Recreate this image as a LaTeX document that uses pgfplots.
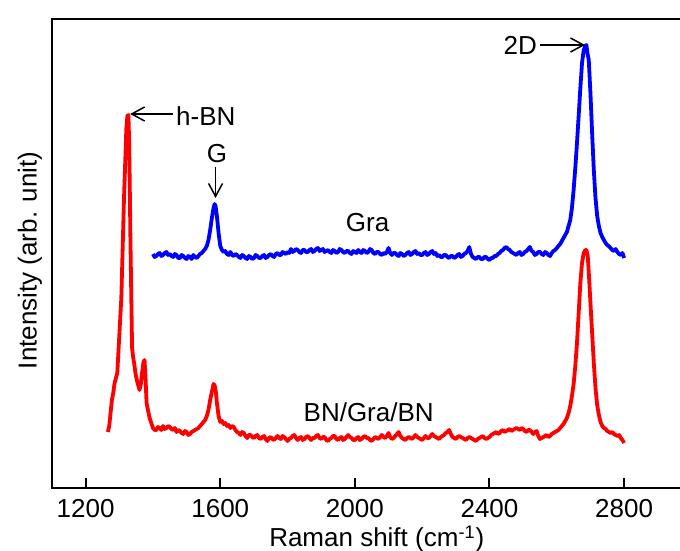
\documentclass[border=0pt]{standalone}
\usepackage{fontspec}
\setmainfont{Liberation Sans}
\usepackage{pgfplots}
\pgfplotsset{compat=1.18}
\usetikzlibrary{arrows.meta}
\begin{document}
\begin{tikzpicture}
\begin{axis}[
  scale only axis,
  width=319.7pt, height=234.25pt,
  xmin=1100, xmax=3000, ymin=0, ymax=468.5,
  xtick={1200,1600,2000,2400,2800},
  xtick pos=left,
  ytick=\empty,
  major tick length=5pt,
  every tick/.style={line width=1pt, black},
  axis line style={line width=1pt},
  /pgf/number format/assume math mode=true,
  /pgf/number format/1000 sep={},
  ticklabel style={font=\fontsize{13}{15}\selectfont},
  xticklabel style={yshift=-2pt},
  xlabel={Raman shift (cm\textsuperscript{-1})},
  ylabel={Intensity (arb. unit)},
  label style={font=\fontsize{13}{15}\selectfont},
  xlabel style={at={(axis description cs:0.508,0)}, anchor=base, yshift=-29.5pt},
  ylabel style={at={(axis description cs:-0.024,0.486)}, anchor=base, rotate=0},
]
\coordinate (bl) at (rel axis cs:0,0);
% Gra (blue)
\addplot[blue, line width=1.9pt, line join=round] coordinates {
(1400,234)(1405,231)(1410,232)(1415,234)(1420,235)(1425,232)(1430,233)(1435,235)(1440,236)(1445,233)(1450,234)(1455,232)(1460,231)(1465,234)(1470,233)(1475,230)(1480,230)(1485,233)(1490,232)
(1495,230)(1500,229)(1505,232)(1510,231)(1515,229)(1520,233)(1525,231)(1530,230)(1535,232)(1540,234)(1545,235)(1550,237)(1555,239)(1560,242)(1565,248)(1570,258)(1575,270)
(1580,280)(1583,284)(1586,282)(1590,272)(1595,255)(1600,242)(1605,238)(1610,236)(1615,237)(1620,234)(1625,233)(1630,236)(1635,233)
(1640,232)(1645,234)(1650,233)(1655,231)(1660,230)(1665,233)(1670,232)(1675,230)(1680,229)(1685,232)(1690,231)(1695,229)(1700,230)(1705,233)(1710,232)(1715,230)(1720,230)(1725,232)(1730,233)
(1735,230)(1740,231)(1745,233)(1750,234)(1755,232)(1760,231)(1765,234)(1770,235)(1775,233)(1780,233)(1785,236)(1790,235)(1795,234)(1800,236)(1805,235)(1810,239)(1815,236)(1820,237)(1825,239)(1830,238)
(1835,236)(1840,235)(1845,238)(1850,238)(1855,236)(1860,236)(1865,238)(1870,239)(1875,236)(1880,237)(1885,239)(1890,240)(1895,237)(1900,238)(1905,239)(1910,236)(1915,237)(1920,238)(1925,236)(1930,235)
(1935,238)(1940,237)(1945,235)(1950,236)(1955,239)(1960,238)(1965,236)(1970,235)(1975,237)(1980,237)(1985,235)(1990,234)(1995,237)(2000,236)(2005,235)(2010,238)(2015,236)(2020,235)(2025,238)(2030,237)
(2035,235)(2040,236)(2045,239)(2050,238)(2055,235)(2060,234)(2065,236)(2070,236)(2075,234)(2080,233)(2085,235)(2090,234)(2095,236)(2100,240)(2105,235)(2110,233)(2115,235)(2120,235)(2125,233)(2130,232)
(2135,235)(2140,234)(2145,232)(2150,233)(2155,235)(2160,236)(2165,233)(2170,234)(2175,236)(2180,237)(2185,234)(2190,235)(2195,233)(2200,233)(2205,235)(2210,236)(2215,233)(2220,234)(2225,236)(2230,237)
(2235,234)(2240,235)(2245,232)(2250,233)(2255,231)(2260,231)(2265,233)(2270,233)(2275,231)(2280,230)(2285,232)(2290,232)(2295,230)(2300,231)(2305,233)(2310,234)(2315,231)(2320,232)(2325,234)(2330,235)
(2335,237)(2340,241)(2345,234)(2350,231)(2355,230)(2360,229)(2365,231)(2370,231)(2375,229)(2380,229)(2385,231)(2390,231)(2395,229)(2400,228)(2405,230)(2410,230)(2415,232)(2420,232)(2425,234)(2430,235)
(2435,237)(2440,238)(2445,240)(2450,241)(2455,239)(2460,238)(2465,236)(2470,235)(2475,234)(2480,233)(2485,235)(2490,236)(2495,233)(2500,234)(2505,236)(2510,237)(2515,239)(2520,241)(2525,237)(2530,236)
(2535,233)(2540,234)(2545,236)(2550,236)(2555,234)(2560,233)(2565,236)(2570,235)(2575,233)(2580,232)(2585,235)(2590,237)(2595,238)(2600,240)(2605,242)(2610,244)(2615,247)(2620,250)(2625,253)(2630,256)
(2635,262)(2640,268)(2645,280)(2650,298)(2655,320)(2660,345)(2665,372)(2670,400)(2675,425)(2680,438)(2685,442)
(2688,443)(2691,435)(2695,428)(2700,395)(2705,355)(2710,318)(2715,290)(2720,272)(2725,262)(2730,255)
(2735,251)(2740,248)(2745,245)(2750,243)(2757,241)(2762,239)(2765,238)(2770,237)(2775,239)(2780,236)(2785,234)(2790,233)(2795,235)(2800,230)
};
% BN/Gra/BN (red)
\addplot[red, line width=1.9pt, line join=round] coordinates {
(1266,56)(1270,62)(1274,75)(1278,88)(1282,95)(1286,105)(1290,110)(1294,115)(1298,140)(1302,165)
(1306,190)(1310,240)(1314,290)(1318,330)(1321,360)(1324,372)(1327,373)(1329,350)(1331,305)(1333,250)
(1335,205)(1338,140)(1341,131)(1344,125)(1348,115)(1352,108)(1356,103)(1360,98)(1364,104)(1368,116)
(1372,126)(1375,128)(1378,110)(1381,85)(1385,78)(1390,70)(1395,65)(1400,60)(1405,58)(1410,58)
(1415,61)(1420,60)(1425,58)(1430,62)(1435,59)(1440,60)(1445,62)(1450,61)(1455,59)(1460,58)(1465,60)(1470,56)(1475,58)(1480,57)(1485,55)(1490,54)(1495,57)(1500,56)(1505,53)(1510,54)
(1515,56)(1520,57)(1525,58)(1530,59)(1535,60)(1540,62)(1545,64)(1550,66)(1555,68)(1560,72)(1565,78)(1570,88)(1575,96)(1580,104)(1583,103)
(1587,96)(1590,85)(1595,72)(1600,66)(1605,67)(1610,64)(1615,65)(1620,62)(1625,63)(1630,60)(1635,62)(1640,61)(1645,58)(1650,56)(1655,55)(1660,53)
(1665,56)(1670,55)(1675,52)(1680,50)(1685,53)(1690,53)(1695,51)(1700,50)(1705,52)(1710,53)(1715,50)(1720,49)(1725,51)(1730,52)(1735,49)(1740,47)(1745,50)(1750,51)(1755,49)(1760,48)
(1765,50)(1770,52)(1775,50)(1780,49)(1785,52)(1790,51)(1795,49)(1800,47)(1805,49)(1810,50)(1815,52)(1820,53)(1825,50)(1830,48)(1835,50)(1840,51)(1845,48)(1850,49)(1855,51)(1860,52)
(1865,50)(1870,48)(1875,50)(1880,50)(1885,52)(1890,53)(1895,50)(1900,49)(1905,51)(1910,51)(1915,48)(1920,47)(1925,49)(1930,50)(1935,52)(1940,52)(1945,49)(1950,48)(1955,50)(1960,51)
(1965,48)(1970,49)(1975,51)(1980,53)(1985,51)(1990,50)(1995,48)(2000,48)(2005,50)(2010,51)(2015,48)(2020,49)(2025,51)(2030,52)(2035,50)(2040,50)(2045,48)(2050,47)(2055,49)(2060,51)
(2065,50)(2070,49)(2075,51)(2080,53)(2085,51)(2090,50)(2095,52)(2100,55)(2105,51)(2110,49)(2115,50)(2120,52)(2125,54)(2130,56)(2135,52)(2140,50)(2145,49)(2150,48)(2155,50)(2160,51)
(2165,50)(2170,49)(2175,51)(2180,53)(2185,51)(2190,50)(2195,49)(2200,48)(2205,50)(2210,52)(2215,50)(2220,50)(2225,52)(2230,54)(2235,52)(2240,51)(2245,50)(2250,49)(2255,51)(2260,52)
(2265,53)(2270,55)(2275,56)(2280,58)(2285,54)(2290,51)(2295,50)(2300,49)(2305,51)(2310,52)(2315,51)(2320,50)(2325,49)(2330,48)(2335,50)(2340,51)(2345,50)(2350,49)(2355,48)(2360,47)
(2365,49)(2370,50)(2375,51)(2380,52)(2385,50)(2390,49)(2395,50)(2400,51)(2405,53)(2410,54)(2415,55)(2420,56)(2425,54)(2430,55)(2435,57)(2440,58)(2445,56)(2450,57)(2455,58)(2460,59)
(2465,57)(2470,58)(2475,59)(2480,60)(2485,59)(2490,58)(2495,60)(2500,59)(2505,57)(2510,56)(2515,58)(2520,58)(2525,56)(2530,54)(2535,56)(2540,57)(2545,52)(2550,49)(2555,50)(2560,51)
(2565,52)(2570,53)(2575,51)(2580,52)(2585,54)(2590,55)(2595,56)(2600,57)(2605,58)(2610,60)(2615,62)(2620,64)(2625,67)(2630,70)(2635,75)(2640,82)(2645,92)(2650,104)
(2655,122)(2660,145)(2665,175)(2670,205)(2675,225)(2680,235)(2685,238)(2688,238)(2692,232)(2696,210)
(2700,185)(2705,155)(2710,125)(2715,100)(2720,83)(2725,73)(2730,66)(2735,62)(2740,60)(2745,59)(2750,57)(2755,56)(2760,55)
(2765,56)(2770,54)(2775,53)(2780,52)(2785,53)(2790,50)(2795,48)(2800,45)
};
% annotations
\draw[line width=0.75pt, -{Straight Barb[length=6.5pt,width=7pt]}] (axis cs:1460,374) -- (axis cs:1332,374);
\node[anchor=west, inner sep=1pt, font=\fontsize{13}{15}\selectfont] at (axis cs:1462,372) {h-BN};
\draw[line width=0.75pt, -{Straight Barb[length=6.5pt,width=7pt]}] (axis cs:1586,321) -- (axis cs:1586,290);
\node[inner sep=0pt, font=\fontsize{13}{15}\selectfont] at (axis cs:1590,334.5) {G};
\draw[line width=0.75pt, -{Straight Barb[length=6.5pt,width=7pt]}] (axis cs:2550,443) -- (axis cs:2684,443);
\node[anchor=east, inner sep=1pt, font=\fontsize{13}{15}\selectfont] at (axis cs:2548,443) {2D};
\node[font=\fontsize{13}{15}\selectfont] at (axis cs:2038,265) {Gra};
\node[font=\fontsize{13}{15}\selectfont] at (axis cs:2041,76) {BN/Gra/BN};
\end{axis}
\pgfresetboundingbox
\path[use as bounding box] ([xshift=-26pt,yshift=-31.5pt]bl) rectangle ([xshift=314pt,yshift=244pt]bl);
\end{tikzpicture}
\end{document}
